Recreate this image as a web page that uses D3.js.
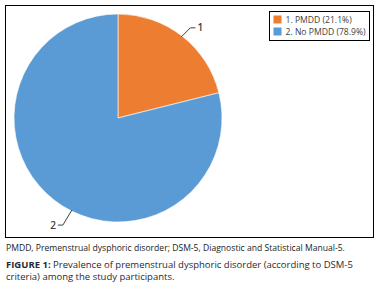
<!DOCTYPE html>
<html>
<head>
<meta charset="utf-8">
<script src="https://cdn.jsdelivr.net/npm/d3@7"></script>
<style>
  body { margin: 0; background: #fff; }
  svg text { font-family: "Open Sans", "DejaVu Sans", sans-serif; }
</style>
</head>
<body>
<div class="canvas"></div>
<script>
// data
var labels = ['1', '2'];
var names = ['1. PMDD (21.1%)', '2. No PMDD (78.9%)'];
var values = [21.1, 78.9];
var colors = ['#ED7D31', '#5B9BD5'];
// where along each slice the leader line touches (0..1)
var labelPos = [0.5, 0.46];

var width = 387, height = 289;

var svg = d3.select('.canvas')
  .append('svg')
  .attr('width', width)
  .attr('height', height);

// frame
svg.append('rect')
  .attr('x', 5.5).attr('y', 5.5)
  .attr('width', 368).attr('height', 232)
  .attr('fill', 'none')
  .attr('stroke', '#000')
  .attr('stroke-width', 1);

var cx = 118, cy = 118, r = 104;

const graph = svg.append('g')
  .attr('transform', `translate(${cx},${cy})`);

const pie = d3.pie().sort(null).value(d => d);
const arc = d3.arc().innerRadius(0).outerRadius(r);

const slices = pie(values);

graph.selectAll('path')
  .data(slices)
  .enter()
  .append('path')
    .attr('d', arc)
    .attr('fill', (d, i) => colors[i])
    .attr('stroke', '#fff')
    .attr('stroke-width', 0.6);

// leader lines + labels
slices.forEach((d, i) => {
  var a = d.startAngle + (d.endAngle - d.startAngle) * labelPos[i];
  var px = Math.sin(a) * (r - 1), py = -Math.cos(a) * (r - 1);
  var sx = px < 0 ? -1 : 1;
  var ex = px + sx * 9, ey = py + (py < 0 ? -9 : 15);
  var hx = ex + sx * 5;
  graph.append('polyline')
    .attr('points', `${px},${py} ${ex},${ey} ${hx},${ey}`)
    .attr('fill', 'none')
    .attr('stroke', '#404040')
    .attr('stroke-width', 1);
  graph.append('text')
    .attr('x', hx + sx * 2)
    .attr('y', ey)
    .attr('dy', '0.35em')
    .attr('text-anchor', sx < 0 ? 'end' : 'start')
    .attr('font-size', 10)
    .attr('font-weight', 600)
    .attr('fill', '#404040')
    .text(labels[i]);
});

// legend
const legend = svg.append('g').attr('transform', 'translate(269.5,11.5)');
legend.append('rect')
  .attr('width', 100).attr('height', 29)
  .attr('fill', '#fff')
  .attr('stroke', '#000')
  .attr('stroke-width', 1);

names.forEach((n, i) => {
  legend.append('rect')
    .attr('x', 4).attr('y', 4 + i * 12)
    .attr('width', 8).attr('height', 8)
    .attr('fill', colors[i]);
  legend.append('text')
    .attr('x', 16).attr('y', 8 + i * 12)
    .attr('dy', '0.35em')
    .attr('font-size', 8.6)
    .attr('fill', '#404040')
    .text(n);
});

// captions
svg.append('text')
  .attr('x', 6).attr('y', 251)
  .attr('font-size', 8.6)
  .attr('fill', '#222')
  .text('PMDD, Premenstrual dysphoric disorder; DSM-5, Diagnostic and Statistical Manual-5.');

const cap = svg.append('text')
  .attr('x', 6).attr('y', 268)
  .attr('font-size', 9.5)
  .attr('fill', '#1f2a36');
cap.append('tspan').attr('font-weight', 'bold').text('FIGURE 1:');
cap.append('tspan').text(' Prevalence of premenstrual dysphoric disorder (according to DSM-5');

svg.append('text')
  .attr('x', 6).attr('y', 280)
  .attr('font-size', 9.5)
  .attr('fill', '#1f2a36')
  .text('criteria) among the study participants.');
</script>
</body>
</html>
